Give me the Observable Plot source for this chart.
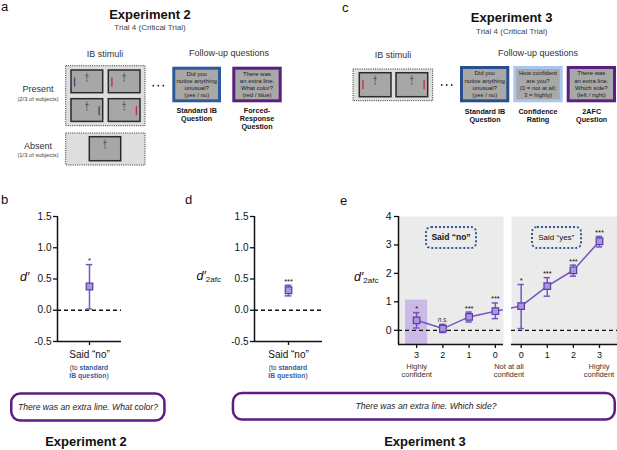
<!DOCTYPE html>
<html><head><meta charset="utf-8">
<script src="https://cdn.jsdelivr.net/npm/d3@7"></script>
<script src="https://cdn.jsdelivr.net/npm/@observablehq/plot@0.6"></script>
<style>
html,body{margin:0;padding:0;background:#fff;}
#root{position:relative;width:617px;height:450px;overflow:hidden;font-family:"Liberation Sans",Arial,Helvetica,sans-serif;}
.dbox{position:absolute;border:2px dotted #34599a;border-radius:6px;box-sizing:border-box;display:flex;align-items:center;justify-content:center;color:#111;white-space:nowrap;}
</style></head><body><div id="root"></div>
<script>
// ---------------- data ----------------
const bLabel = ["Said “no”"];
const bMean = [0.38], bLo = [0.02], bHi = [0.73], bSig = ["*"];
const dLabel = ["Said “no”"];
const dMean = [0.32], dLo = [0.23], dHi = [0.40], dSig = ["***"];
const dprimeTicks = [-0.5, 0, 0.5, 1, 1.5];

const noConf = [3, 2, 1, 0];
const noMean = [0.35, 0.06, 0.47, 0.67];
const noLo   = [0.08, -0.08, 0.29, 0.41];
const noHi   = [0.62, 0.21, 0.64, 0.96];
const noSig  = ["*", "n.s.", "***", "***"];
const yesConf = [0, 1, 2, 3];
const yesMean = [0.85, 1.55, 2.11, 3.13];
const yesLo   = [0.06, 1.20, 1.90, 2.93];
const yesHi   = [1.61, 1.85, 2.29, 3.30];
const yesSig  = ["*", "***", "***", "***"];
const eTicks = [0, 1, 2, 3, 4];
const highlightConf = [3];
const highlightTop = [1.06];

// ---------------- styles ----------------
const FONT = '"Liberation Sans", Arial, Helvetica, sans-serif';
const LINE = "#7456c2", FILL = "#ab95de", EDGE = "#5a3ea6";
const root = d3.select("#root");
const svg = root.append("svg").attr("width", 617).attr("height", 450)
  .style("position", "absolute").style("left", "0px").style("top", "0px")
  .attr("font-family", FONT);

function txt(x, y, s, o = {}) {
  const t = svg.append("text").attr("x", x).attr("y", y)
    .attr("text-anchor", o.anchor || "middle")
    .attr("font-size", o.size || 9).attr("fill", o.fill || "#111");
  if (!o.base) t.attr("dominant-baseline", "central");
  if (o.weight) t.attr("font-weight", o.weight);
  if (o.style) t.attr("font-style", o.style);
  t.text(s);
  return t;
}
function lines(x, yc, arr, size, lh, o = {}) {
  const n = arr.length;
  arr.forEach((s, i) => txt(x, yc + (i - (n - 1) / 2) * lh, s, Object.assign({size}, o)));
}
function dottedBox(x, y, w, h) {
  svg.append("rect").attr("x", x).attr("y", y).attr("width", w).attr("height", h)
    .attr("fill", "#dedede").attr("stroke", "#333").attr("stroke-width", 1)
    .attr("stroke-dasharray", "1,1.2");
}
function screen(x, y, w, h, side, color) {
  svg.append("rect").attr("x", x).attr("y", y).attr("width", w).attr("height", h)
    .attr("fill", "#a7a7a7").attr("stroke", "#2a2a2a").attr("stroke-width", 1.5);
  const cx = x + w / 2;
  svg.append("line").attr("x1", cx).attr("x2", cx).attr("y1", y + 2.7).attr("y2", y + 9.3).attr("stroke", "#444").attr("stroke-width", 0.7);
  svg.append("line").attr("x1", cx - 1.8).attr("x2", cx + 1.8).attr("y1", y + 5.7).attr("y2", y + 5.7).attr("stroke", "#444").attr("stroke-width", 0.7);
  svg.append("circle").attr("cx", cx).attr("cy", y + 11).attr("r", 0.7).attr("fill", "#444");
  if (side) {
    const lx = side === "left" ? x + 3.6 : x + w - 3.6;
    svg.append("line").attr("x1", lx).attr("x2", lx).attr("y1", y + 7.5).attr("y2", y + 16.5)
      .attr("stroke", color).attr("stroke-width", 1.4);
  }
}
function qbox(x, y, w, h, color, textLines) {
  svg.append("rect").attr("x", x + 1.5).attr("y", y + 1.5).attr("width", w - 3).attr("height", h - 3)
    .attr("fill", "#a8a8a8").attr("stroke", color).attr("stroke-width", 3);
  lines(x + w / 2, y + h / 2, textLines, 6, 7.3, {fill: "#1a1a1a"});
}
function ellipsis(x, y) {
  [-5, 0, 5].forEach(d => svg.append("circle").attr("cx", x + d).attr("cy", y).attr("r", 0.9).attr("fill", "#222"));
}
const DARK = "#3f4d78", RED = "#c4303f", BLUE = "#2e5a9c", LBLUE = "#a9c6ec", PURP = "#5c1e80";

// panel letters
txt(1, 11, "a", {anchor: "start", size: 13, base: true});
txt(342, 12, "c", {anchor: "start", size: 13, base: true});
txt(1, 204, "b", {anchor: "start", size: 13, base: true});
txt(185, 204, "d", {anchor: "start", size: 13, base: true});
txt(340, 205, "e", {anchor: "start", size: 13, base: true});

// ---------------- panel a ----------------
txt(150, 14.5, "Experiment 2", {size: 13, weight: "bold"});
txt(150, 27.5, "Trial 4 (Critical Trial)", {size: 8, fill: "#444"});
txt(105, 54, "IB stimuli", {size: 9, fill: "#333"});
txt(229, 53, "Follow-up questions", {size: 9, fill: "#333"});
dottedBox(65.7, 65.7, 79.3, 60);
screen(71, 70, 31.7, 22.7, "left", DARK);
screen(108.3, 70, 31.7, 22.7, "left", RED);
screen(71, 98.7, 31.7, 22.7, "right", DARK);
screen(108.3, 98.7, 31.7, 22.7, "right", RED);
dottedBox(65.7, 133, 79.3, 32);
screen(89.3, 136.7, 31.4, 24, null);
txt(38, 89, "Present", {size: 9, fill: "#333"});
txt(38, 99, "(2/3 of subjects)", {size: 5.8, fill: "#444"});
txt(38, 146, "Absent", {size: 9, fill: "#333"});
txt(38, 155, "(1/3 of subjects)", {size: 5.8, fill: "#444"});
ellipsis(158.3, 85.7);
qbox(172.3, 66.7, 48.7, 35.6, BLUE, ["Did you", "notice anything", "unusual?", "(yes / no)"]);
qbox(232.3, 66.7, 49.4, 35.6, PURP, ["There was", "an extra line.", "What color?", "(red / blue)"]);
lines(196.7, 114, ["Standard IB", "Question"], 7.2, 8, {weight: "bold"});
lines(257, 118, ["Forced-", "Response", "Question"], 7.2, 8, {weight: "bold"});

// ---------------- panel c ----------------
txt(511.7, 17, "Experiment 3", {size: 13, weight: "bold"});
txt(511.7, 31.5, "Trial 4 (Critical Trial)", {size: 8, fill: "#444"});
txt(393, 55, "IB stimuli", {size: 9, fill: "#333"});
txt(538, 53, "Follow-up questions", {size: 9, fill: "#333"});
dottedBox(353, 69, 79.7, 31.7);
screen(359.3, 72.7, 31.7, 24, "left", RED);
screen(396, 72.7, 31.7, 24, "right", RED);
ellipsis(446.7, 85);
qbox(460, 66, 49.3, 36.3, "#2b4e8c", ["Did you", "notice anything", "unusual?", "(yes / no)"]);
qbox(513.3, 66, 49.4, 36.3, LBLUE, ["How confident", "are you?", "(0 = not at all;", "3 = highly)"]);
qbox(566.7, 66, 49.3, 36.3, PURP, ["There was", "an extra line.", "Which side?", "(left / right)"]);
lines(485, 115.3, ["Standard IB", "Question"], 7.2, 7.6, {weight: "bold"});
lines(538, 115.3, ["Confidence", "Rating"], 7.2, 7.6, {weight: "bold"});
lines(591.7, 115.3, ["2AFC", "Question"], 7.2, 7.6, {weight: "bold"});

// ---------------- axis labels & sublabels ----------------
function dlabel(x, y, sub) {
  const t = svg.append("text").attr("x", x).attr("y", y).attr("dominant-baseline", "central").attr("fill", "#111");
  t.append("tspan").attr("font-size", 12.5).attr("font-style", "italic").text("d′");
  if (sub) t.append("tspan").attr("font-size", 8).attr("dy", 3).text(sub);
}
dlabel(20, 277, null);
dlabel(196.5, 276, "2afc");
dlabel(354, 277, "2afc");
function subLabel(x) {
  const a = svg.append("text").attr("x", x).attr("y", 367.3).attr("text-anchor", "middle").attr("dominant-baseline", "central").attr("font-size", 6.8).attr("fill", "#333");
  a.append("tspan").text("(to ");
  a.append("tspan").attr("font-weight", "bold").attr("fill", "#3b5ea6").text("standard");
  const b = svg.append("text").attr("x", x).attr("y", 375.3).attr("text-anchor", "middle").attr("dominant-baseline", "central").attr("font-size", 6.8).attr("fill", "#333");
  b.append("tspan").attr("font-weight", "bold").attr("fill", "#3b5ea6").text("IB question");
  b.append("tspan").text(")");
}
subLabel(89);
subLabel(288);
lines(416.7, 370.2, ["Highly", "confident"], 7.5, 8.3, {fill: "#333"});
lines(509, 370.2, ["Not at all", "confident"], 7.5, 8.3, {fill: "#333"});
lines(599, 370.2, ["Highly", "confident"], 7.5, 8.3, {fill: "#333"});

// ---------------- bottom boxes ----------------
function rbox(x, y, w, h, s, tx) {
  svg.append("rect").attr("x", x + 1.25).attr("y", y + 1.25).attr("width", w - 2.5).attr("height", h - 2.5)
    .attr("rx", 9).attr("fill", "#fff").attr("stroke", PURP).attr("stroke-width", 2.5);
  txt(tx, y + h / 2, s, {size: 8.6, style: "italic", fill: "#222"});
}
rbox(10, 392.3, 155.7, 29.4, "There was an extra line. What color?", 88);
rbox(231.7, 391.7, 384.3, 29, "There was an extra line. Which side?", 426);
txt(86, 441.7, "Experiment 2", {size: 13, weight: "bold"});
txt(425, 441.7, "Experiment 3", {size: 13, weight: "bold"});

// ---------------- plots ----------------
const plotStyle = {fontFamily: FONT, fontSize: "10px", color: "#111", background: "transparent", overflow: "visible"};
function place(node, left, top) {
  node.style.position = "absolute";
  node.style.left = left + "px";
  node.style.top = top + "px";
  root.node().appendChild(node);
}
function errMarks(rows, capHalf) {
  return [
    Plot.ruleX(rows, {x: "pos", y1: "lo", y2: "hi", stroke: LINE, strokeWidth: 1.5}),
    Plot.ruleY(rows, {y: "hi", x1: d => d.pos - capHalf, x2: d => d.pos + capHalf, stroke: LINE, strokeWidth: 1.5}),
    Plot.ruleY(rows, {y: "lo", x1: d => d.pos - capHalf, x2: d => d.pos + capHalf, stroke: LINE, strokeWidth: 1.5}),
    Plot.dot(rows, {x: "pos", y: "mean", symbol: "square", r: 3.7, fill: FILL, stroke: EDGE, strokeWidth: 1.2}),
    Plot.text(rows.filter(d => d.sig !== "n.s."), {x: "pos", y: "hi", text: "sig", dy: -1.5, lineAnchor: "bottom", fontSize: 7.5}),
    Plot.text(rows.filter(d => d.sig === "n.s."), {x: "pos", y: "hi", text: "sig", dy: -2.5, lineAnchor: "bottom", fontSize: 6.5, fontStyle: "italic", fill: "#333"})
  ];
}
function singlePlot(label, mean, lo, hi, sig, marginRight) {
  const rows = label.map((l, i) => ({label: l, pos: i + 1, mean: mean[i], lo: lo[i], hi: hi[i], sig: sig[i]}));
  const yD = [dprimeTicks[0], dprimeTicks[dprimeTicks.length - 1]];
  const xD = [0, rows.length + 1];
  return Plot.plot({
    width: 160, height: 161, marginLeft: 57, marginRight, marginTop: 11, marginBottom: 25,
    style: plotStyle,
    x: {domain: xD, axis: null},
    y: {domain: yD, axis: null},
    marks: [
      Plot.ruleY([0], {stroke: "#111", strokeWidth: 1.3, strokeDasharray: "4,3"}),
      Plot.ruleY([yD[0]], {stroke: "#111", strokeWidth: 1.5}),
      Plot.ruleX([xD[0]], {stroke: "#111", strokeWidth: 1.5}),
      Plot.axisY({ticks: dprimeTicks, tickFormat: d => d.toFixed(1), tickSize: 4, tickPadding: 2, fontSize: 10, strokeWidth: 1.3, label: null}),
      Plot.axisX({ticks: rows.map(d => d.pos), tickFormat: i => rows[i - 1].label, tickSize: 4, tickPadding: 5, fontSize: 10, strokeWidth: 1.3, label: null}),
      ...errMarks(rows, 0.1)
    ]
  });
}
place(singlePlot(bLabel, bMean, bLo, bHi, bSig, 39), 0, 205);
place(singlePlot(dLabel, dMean, dLo, dHi, dSig, 35), 197, 205);

const noRows = noConf.map((c, i) => ({pos: c, mean: noMean[i], lo: noLo[i], hi: noHi[i], sig: noSig[i]}));
const yesRows = yesConf.map((c, i) => ({pos: c, mean: yesMean[i], lo: yesLo[i], hi: yesHi[i], sig: yesSig[i]}));
// the line continues across the gap to the neighbouring panel's first point (one step beyond 0)
const leftLine = [...noRows, {pos: -1, mean: yesRows[0].mean}];
const rightLine = [{pos: -1, mean: noRows[noRows.length - 1].mean}, ...yesRows];
const eY = [-0.5, eTicks[eTicks.length - 1]];
const highlight = highlightConf.map((c, i) => ({pos: c, top: highlightTop[i]}));

function ePanel(rows, line, xD, width, marginLeft, withYAxis, extra) {
  return Plot.plot({
    width, height: 154, marginLeft, marginRight: 0, marginTop: 10, marginBottom: 16,
    style: plotStyle,
    x: {domain: xD, axis: null},
    y: {domain: eY, axis: null},
    marks: [
      Plot.frame({fill: "#ebebeb", stroke: "none"}),
      ...extra,
      Plot.ruleY([0], {stroke: "#111", strokeWidth: 1.3, strokeDasharray: "4,3"}),
      Plot.ruleY([eY[0]], {stroke: "#111", strokeWidth: 1.5}),
      withYAxis ? Plot.ruleX([xD[0]], {stroke: "#111", strokeWidth: 1.5}) : null,
      withYAxis ? Plot.axisY({ticks: eTicks, tickFormat: d => String(d), tickSize: 4, tickPadding: 3, fontSize: 10.5, strokeWidth: 1.3, label: null}) : null,
      Plot.axisX({ticks: rows.map(d => d.pos), tickFormat: d => String(d), tickSize: 4, tickPadding: 3, fontSize: 9, strokeWidth: 1.3, label: null}),
      Plot.line(line, {x: "pos", y: "mean", stroke: LINE, strokeWidth: 1.5, clip: true}),
      ...errMarks(rows, 0.12)
    ].filter(Boolean)
  });
}
place(ePanel(noRows, leftLine, [3.69, -0.31], 133, 28, true, [
  Plot.rect(highlight, {x1: d => d.pos - 0.42, x2: d => d.pos + 0.42, y1: eY[0], y2: "top", fill: "#cbb9e6"})
]), 370, 206);
place(ePanel(yesRows, rightLine, [-0.37, 3.69], 106, 0, false, []), 511, 206);

// dotted annotation boxes
function dbox(x, y, w, h, s, bold) {
  root.append("div").attr("class", "dbox")
    .style("left", x + "px").style("top", y + "px").style("width", w + "px").style("height", h + "px")
    .style("font-size", bold ? "8.5px" : "8px").style("font-weight", bold ? "bold" : "normal")
    .text(s);
}
dbox(425, 225.5, 52, 23, "Said “no”", true);
dbox(530.5, 225.5, 51.5, 23, "Said “yes”", false);
</script>
</body></html>
